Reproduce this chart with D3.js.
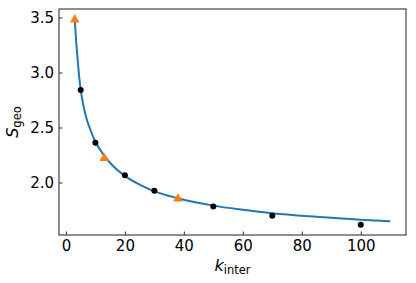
<!DOCTYPE html>
<html><head><meta charset="utf-8">
<script src="https://cdn.jsdelivr.net/npm/d3@7"></script>
<style>html,body{margin:0;padding:0;background:#fff;}svg{display:block;font-family:"DejaVu Sans",sans-serif;}</style>
</head><body>
<script>
const blackX = [5, 10, 20, 30, 50, 70, 100];
const blackY = [2.841, 2.362, 2.065, 1.925, 1.782, 1.697, 1.616];
const triX = [3, 13, 38];
const triY = [3.48, 2.22, 1.853];
const curveX = [3, 3.5, 4, 4.5, 5, 6, 7, 8, 10, 13, 16, 20, 25, 30, 38, 50, 60, 70, 85, 100, 110];
const curveY = [3.48, 3.27, 3.11, 2.96, 2.845, 2.69, 2.58, 2.5, 2.37, 2.245, 2.15, 2.06, 1.98, 1.92, 1.857, 1.79, 1.752, 1.72, 1.688, 1.662, 1.648];
const xTicks = [0, 20, 40, 60, 80, 100];
const yTicks = [2.0, 2.5, 3.0, 3.5];

const W = 416, H = 283;
const L = 59, R = 406, T = 9, B = 235;
const svg = d3.select("body").append("svg").attr("width", W).attr("height", H);
const x = d3.scaleLinear().domain([-2.35, 115.35]).range([L, R]);
const y = d3.scaleLinear().domain([1.523, 3.577]).range([B, T]);

// curve
const line = d3.line().x(d => x(d[0])).y(d => y(d[1])).curve(d3.curveMonotoneX);
svg.append("path").datum(curveX.map((v, i) => [v, curveY[i]]))
  .attr("d", line).attr("fill", "none").attr("stroke", "#1f77b4").attr("stroke-width", 2);

// black points
svg.append("g").selectAll("circle").data(blackX.map((v, i) => [v, blackY[i]])).join("circle")
  .attr("cx", d => x(d[0])).attr("cy", d => y(d[1])).attr("r", 3).attr("fill", "#000");

// triangles
const tri = d3.symbol().type(d3.symbolTriangle).size(40);
svg.append("g").selectAll("path").data(triX.map((v, i) => [v, triY[i]])).join("path")
  .attr("d", tri).attr("transform", d => `translate(${x(d[0])},${y(d[1])})`).attr("fill", "#ff7f0e");

// axes
const xAxis = d3.axisBottom(x).tickValues(xTicks).tickSizeInner(-3.5).tickSizeOuter(0).tickPadding(5).tickFormat(d3.format("d"));
const gx = svg.append("g").attr("transform", `translate(0,${B})`).call(xAxis);
const yAxis = d3.axisLeft(y).tickValues(yTicks).tickSizeInner(-3.5).tickSizeOuter(0).tickPadding(5).tickFormat(d3.format(".1f"));
const gy = svg.append("g").attr("transform", `translate(${L},0)`).call(yAxis);
[gx, gy].forEach(g => {
  g.select(".domain").remove();
  g.selectAll("line").attr("stroke", "#333");
  g.selectAll("text").attr("font-size", 15).attr("fill", "#000").attr("font-family", "DejaVu Sans");
});

// frame
svg.append("rect").attr("x", L).attr("y", T).attr("width", R - L).attr("height", B - T)
  .attr("fill", "none").attr("stroke", "#333").attr("stroke-width", 1.1);

// x label
const xl = svg.append("text").attr("x", (L + R) / 2).attr("y", 271).attr("text-anchor", "middle").attr("font-size", 16);
xl.append("tspan").attr("font-style", "italic").text("k");
xl.append("tspan").attr("font-size", 11.5).attr("dy", 3).text("inter");

// y label
const yl = svg.append("text").attr("transform", `translate(18,${(T + B) / 2}) rotate(-90)`).attr("text-anchor", "middle").attr("font-size", 16);
yl.append("tspan").attr("font-style", "italic").text("S");
yl.append("tspan").attr("font-size", 11.5).attr("dy", 3).text("geo");
</script>
</body></html>
